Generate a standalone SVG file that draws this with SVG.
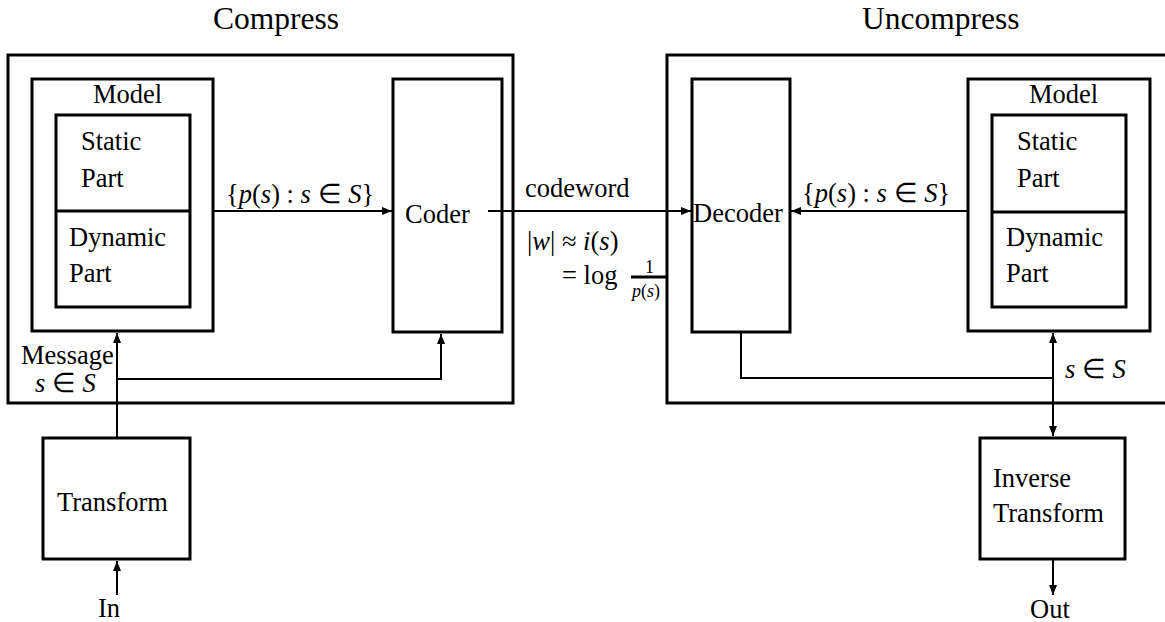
<svg xmlns="http://www.w3.org/2000/svg" width="1165" height="622" viewBox="0 0 1165 622">
  <style>
    .box { fill: none; stroke: #000; stroke-width: 3; }
    .wire { fill: none; stroke: #000; stroke-width: 2; }
    text { font-family: "Liberation Serif", "Times New Roman", serif; font-size: 26.5px; fill: #000; }
    .title { font-size: 31.5px; }
    .m { font-style: italic; }
    .small { font-size: 18px; }
  </style>
  <defs>
    <marker id="arrow" viewBox="0 0 10 8" refX="10" refY="4" markerWidth="10" markerHeight="8" markerUnits="userSpaceOnUse" orient="auto">
      <path d="M0,0 L10,4 L0,8 Z" fill="#000"/>
    </marker>
  </defs>

  <rect width="1165" height="622" fill="#fff"/>

  <!-- section titles -->
  <text class="title" x="213" y="29">Compress</text>
  <text class="title" x="862" y="29">Uncompress</text>

  <!-- compressor side -->
  <g id="compress">
    <rect class="box" x="8" y="55" width="505" height="348"/>
  </g>
  <g id="model-left">
    <rect class="box" x="32" y="79" width="181" height="252"/>
    <text x="93" y="103">Model</text>
    <rect class="box" x="56" y="115" width="134" height="192"/>
    <line class="box" x1="56" y1="211" x2="190" y2="211"/>
    <text x="81" y="150">Static</text>
    <text x="81" y="187">Part</text>
    <text x="69" y="246">Dynamic</text>
    <text x="69" y="282">Part</text>
  </g>
  <g id="coder">
    <rect class="box" x="393" y="79" width="109" height="253"/>
    <text x="405" y="223">Coder</text>
  </g>
  <g id="transform">
    <rect class="box" x="43" y="438" width="147" height="121"/>
    <text x="57" y="511">Transform</text>
  </g>

  <!-- decompressor side -->
  <g id="uncompress">
    <rect class="box" x="667" y="55" width="520" height="348"/>
  </g>
  <g id="decoder">
    <rect class="box" x="692" y="79" width="98" height="253"/>
    <text x="693" y="222">Decoder</text>
  </g>
  <g id="model-right">
    <rect class="box" x="968" y="79" width="182" height="252"/>
    <text x="1029" y="103">Model</text>
    <rect class="box" x="992" y="115" width="134" height="192"/>
    <line class="box" x1="992" y1="212" x2="1126" y2="212"/>
    <text x="1017" y="150">Static</text>
    <text x="1017" y="187">Part</text>
    <text x="1006" y="246">Dynamic</text>
    <text x="1006" y="282">Part</text>
  </g>
  <g id="inverse-transform">
    <rect class="box" x="980" y="438" width="145" height="121"/>
    <text x="993" y="487">Inverse</text>
    <text x="993" y="522">Transform</text>
  </g>

  <!-- connectors -->
  <g id="connectors">
    <line class="wire" x1="213" y1="211" x2="392" y2="211" marker-end="url(#arrow)"/>
    <line class="wire" x1="488" y1="211" x2="691" y2="211" marker-end="url(#arrow)"/>
    <line class="wire" x1="968" y1="211" x2="791" y2="211" marker-end="url(#arrow)"/>
    <line class="wire" x1="117" y1="438" x2="117" y2="333" marker-end="url(#arrow)"/>
    <polyline class="wire" points="117,379 441,379 441,334" marker-end="url(#arrow)"/>
    <line class="wire" x1="117" y1="595" x2="117" y2="561" marker-end="url(#arrow)"/>
    <polyline class="wire" points="741,332 741,378 1053,378"/>
    <line class="wire" x1="1053" y1="378" x2="1053" y2="333" marker-end="url(#arrow)"/>
    <line class="wire" x1="1053" y1="378" x2="1053" y2="436" marker-end="url(#arrow)"/>
    <line class="wire" x1="1053" y1="559" x2="1053" y2="595" marker-end="url(#arrow)"/>
  </g>

  <!-- connector labels -->
  <text x="226" y="203">{<tspan class="m">p</tspan>(<tspan class="m">s</tspan>) : <tspan class="m">s</tspan> ∈ <tspan class="m">S</tspan>}</text>
  <text x="802" y="202">{<tspan class="m">p</tspan>(<tspan class="m">s</tspan>) : <tspan class="m">s</tspan> ∈ <tspan class="m">S</tspan>}</text>
  <text x="525" y="197">codeword</text>
  <text x="527" y="250">|<tspan class="m">w</tspan>| ≈ <tspan class="m">i</tspan>(<tspan class="m">s</tspan>)</text>
  <text x="562" y="284">= log</text>
  <text class="small" x="645" y="273">1</text>
  <line x1="631" y1="277" x2="668" y2="277" stroke="#000" stroke-width="3"/>
  <text class="small" x="632" y="297"><tspan class="m">p</tspan>(<tspan class="m">s</tspan>)</text>
  <text x="21" y="364">Message</text>
  <text x="35" y="392"><tspan class="m">s</tspan> ∈ <tspan class="m">S</tspan></text>
  <text x="1065" y="378"><tspan class="m">s</tspan> ∈ <tspan class="m">S</tspan></text>
  <text x="98" y="617">In</text>
  <text x="1030" y="618">Out</text>
</svg>
